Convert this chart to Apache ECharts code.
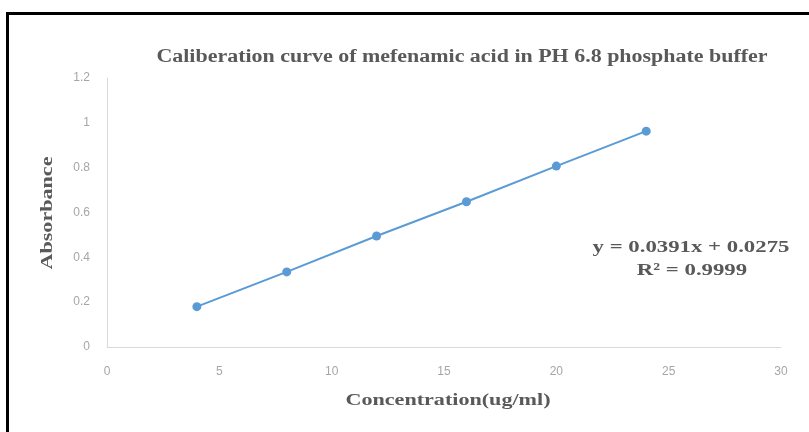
<!DOCTYPE html>
<html>
<head>
<meta charset="utf-8">
<script src="https://cdn.jsdelivr.net/npm/echarts@6/dist/echarts.min.js"></script>
<style>
  html, body { margin: 0; padding: 0; background: #fff; }
  #chart { width: 809px; height: 432px; }
</style>
</head>
<body>
<div id="chart"></div>
<script>
// Concentration standards (ug/ml) and measured absorbance
const concentration = [4, 8, 12, 16, 20, 24];
const absorbance = [0.18, 0.335, 0.495, 0.648, 0.807, 0.963];

// Axis ranges
const xTicks = [0, 5, 10, 15, 20, 25, 30];
const yTicks = [0, 0.2, 0.4, 0.6, 0.8, 1, 1.2];

// Text
const chartTitle = 'Caliberation curve of mefenamic acid in PH 6.8 phosphate buffer';
const xName = 'Concentration(ug/ml)';
const yName = 'Absorbance';
const fitLines = ['y = 0.0391x + 0.0275', 'R\u00B2 = 0.9999'];

const serifBold = "bold 17px 'Liberation Serif', 'DejaVu Serif', serif";
const titleFont = "bold 18px 'Liberation Serif', 'DejaVu Serif', serif";
const textGray = '#595959';

const chart = echarts.init(document.getElementById('chart'), null, { renderer: 'canvas' });

chart.setOption({
  backgroundColor: '#ffffff',
  animation: false,
  grid: { left: 107, right: 28, top: 78, bottom: 85 },
  xAxis: {
    type: 'value',
    min: xTicks[0],
    max: xTicks[xTicks.length - 1],
    interval: xTicks[1] - xTicks[0],
    axisLine: { show: true, lineStyle: { color: '#d9d9d9', width: 1 } },
    axisTick: { show: false },
    splitLine: { show: false },
    axisLabel: { color: '#a6a6a6', fontSize: 12, fontFamily: "'Liberation Sans', sans-serif", margin: 19 }
  },
  yAxis: {
    type: 'value',
    min: yTicks[0],
    max: yTicks[yTicks.length - 1],
    interval: 0.2,
    axisLine: { show: true, lineStyle: { color: '#d9d9d9', width: 1 } },
    axisTick: { show: false },
    splitLine: { show: false },
    axisLabel: { color: '#a6a6a6', fontSize: 12, fontFamily: "'Liberation Sans', sans-serif", margin: 17 }
  },
  series: [{
    type: 'line',
    data: concentration.map((c, i) => [c, absorbance[i]]),
    symbol: 'circle',
    symbolSize: 9,
    lineStyle: { color: '#5b9bd5', width: 2 },
    itemStyle: { color: '#5b9bd5' }
  }],
  graphic: [
    {
      type: 'rect',
      shape: { x: 7.5, y: 13.5, width: 900, height: 500 },
      style: { fill: null, stroke: '#000000', lineWidth: 3 },
      silent: true
    },
    {
      type: 'text',
      x: 462, y: 57,
      scaleX: 1.22,
      style: { text: chartTitle, x: 0, y: 0, font: titleFont, fill: textGray, textAlign: 'center', textVerticalAlign: 'middle' }
    },
    {
      type: 'text',
      x: 448, y: 401,
      scaleX: 1.3,
      style: { text: xName, x: 0, y: 0, font: serifBold, fill: textGray, textAlign: 'center', textVerticalAlign: 'middle' }
    },
    {
      type: 'text',
      x: 48, y: 213,
      rotation: Math.PI / 2,
      scaleX: 1.3,
      style: { text: yName, x: 0, y: 0, font: serifBold, fill: textGray, textAlign: 'center', textVerticalAlign: 'middle' }
    },
    {
      type: 'text',
      x: 691, y: 248,
      scaleX: 1.34,
      style: { text: fitLines[0], x: 0, y: 0, font: serifBold, fill: textGray, textAlign: 'center', textVerticalAlign: 'middle' }
    },
    {
      type: 'text',
      x: 692, y: 271,
      scaleX: 1.34,
      style: { text: fitLines[1], x: 0, y: 0, font: serifBold, fill: textGray, textAlign: 'center', textVerticalAlign: 'middle' }
    }
  ]
});
</script>
</body>
</html>
